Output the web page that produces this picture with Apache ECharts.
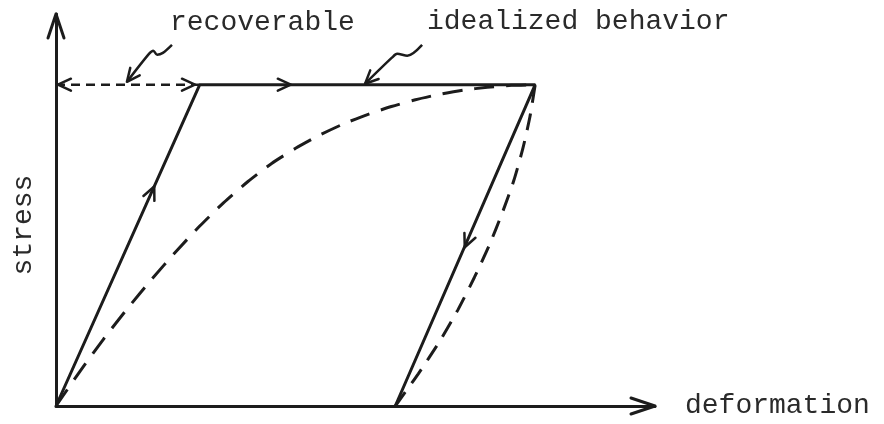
<!DOCTYPE html>
<html><head><meta charset="utf-8">
<script src="https://cdn.jsdelivr.net/npm/echarts@6/dist/echarts.min.js"></script>
<style>html,body{margin:0;padding:0;background:#fff}#c{width:884px;height:424px}</style>
</head><body><div id="c"></div>
<script>
// axis extents (arbitrary units)
const axisMaxX = 12.5;
const axisMaxY = 12.2;
// idealized behavior: load, yield plateau, unload
const idealPath = [[0,0],[3,10],[10,10],[7.08,0]];
// real loading curve (dashed)
const realLoading = [[0,0],[0.5,1.08],[1,2.1],[1.5,3.05],[2,3.95],[2.5,4.8],[3,5.6],[3.5,6.33],[4,6.98],[4.5,7.55],[5,8.02],[5.5,8.43],[6,8.78],[6.5,9.07],[7,9.32],[7.5,9.53],[8,9.7],[8.5,9.83],[9,9.92],[9.5,9.98],[10,10]];
// real unloading curve (dashed)
const realUnloading = [[7.08,0],[7.56,1],[8.0,2],[8.39,3],[8.73,4],[9.04,5],[9.31,6],[9.55,7],[9.74,8],[9.89,9],[10,10]];
// recoverable span (dashed, double-headed)
const recoverableSpan = [[0,10],[3,10]];
// pointer strokes for the two labels
const pointerRecoverable = [[2.42,11.24],[2.23,10.99],[2.11,10.93],[2.03,11.06],[1.94,10.96],[1.48,10.09]];
const pointerIdealized = [[7.64,11.24],[7.33,10.9],[7.12,10.96],[7.01,10.84],[6.45,10.03]];
// arrowheads: [tipX, tipY, fromX, fromY]
const flowArrows = [[2.05,6.83,0,0],[4.9,10,3,10],[8.53,4.94,10,10],[0.04,10,3,10],[2.9,10,0,10],[1.48,10.09,1.94,10.96],[6.45,10.03,7.01,10.84]];
const axisArrows = [[axisMaxX,0,0,0],[0,axisMaxY,0,0]];
// texts
const xTitle = 'deformation';
const yTitle = 'stress';
const noteRecoverable = 'recoverable';
const noteIdealized = 'idealized behavior';

const INK = '#1c1c1c';
const TXT = '#2a2a2a';
const FONT = 'Liberation Mono, DejaVu Sans Mono, monospace';

function chevron(size, half, width){
  return function(params, api){
    const t = api.coord([api.value(0), api.value(1)]);
    const f = api.coord([api.value(2), api.value(3)]);
    let dx = t[0]-f[0], dy = t[1]-f[1];
    const len = Math.hypot(dx, dy) || 1; dx /= len; dy /= len;
    const nx = -dy, ny = dx;
    return {type:'polyline', shape:{points:[
      [t[0]-dx*size+nx*half, t[1]-dy*size+ny*half], t,
      [t[0]-dx*size-nx*half, t[1]-dy*size-ny*half]]},
      style:{stroke:INK, lineWidth:width, fill:null, lineJoin:'round', lineCap:'round'}};
  };
}

const chart = echarts.init(document.getElementById('c'));
chart.setOption({
  animation:false,
  backgroundColor:'#fff',
  grid:{left:56, top:14, right:229, bottom:18},
  xAxis:{type:'value', min:0, max:axisMaxX,
    axisLine:{show:true, onZero:false, lineStyle:{color:INK, width:3}},
    axisTick:{show:false}, axisLabel:{show:false}, splitLine:{show:false},
    name:xTitle, nameLocation:'end', nameGap:30,
    nameTextStyle:{fontFamily:FONT, fontSize:28, color:TXT, verticalAlign:'middle'}},
  yAxis:{type:'value', min:0, max:axisMaxY,
    axisLine:{show:true, onZero:false, lineStyle:{color:INK, width:3}},
    axisTick:{show:false}, axisLabel:{show:false}, splitLine:{show:false}},
  graphic:[
    {type:'text', x:170, y:23, style:{text:noteRecoverable, font:'28px '+FONT, fill:TXT, verticalAlign:'middle'}},
    {type:'text', x:427, y:22, style:{text:noteIdealized, font:'28px '+FONT, fill:TXT, verticalAlign:'middle'}},
    {type:'text', x:24, y:225, rotation:Math.PI/2, style:{text:yTitle, font:'28px '+FONT, fill:TXT, align:'center', verticalAlign:'middle'}}
  ],
  series:[
    {type:'line', data:idealPath, symbol:'none', lineStyle:{color:INK, width:3}},
    {type:'line', data:realLoading, symbol:'none', smooth:0.2, lineStyle:{color:INK, width:3, type:[20,12]}},
    {type:'line', data:realUnloading, symbol:'none', smooth:0.2, lineStyle:{color:INK, width:3, type:[17,11]}},
    {type:'line', data:recoverableSpan, symbol:'none', lineStyle:{color:INK, width:2.5, type:[9,6]}},
    {type:'line', data:pointerRecoverable, symbol:'none', smooth:0.3, lineStyle:{color:INK, width:2.5}},
    {type:'line', data:pointerIdealized, symbol:'none', smooth:0.3, lineStyle:{color:INK, width:2.5}},
    {type:'custom', data:flowArrows, clip:false, encode:{x:[0,2], y:[1,3]}, renderItem:chevron(13, 6, 2.5)},
    {type:'custom', data:axisArrows, clip:false, encode:{x:[0,2], y:[1,3]}, renderItem:chevron(24, 8, 3)}
  ]
});
</script></body></html>
